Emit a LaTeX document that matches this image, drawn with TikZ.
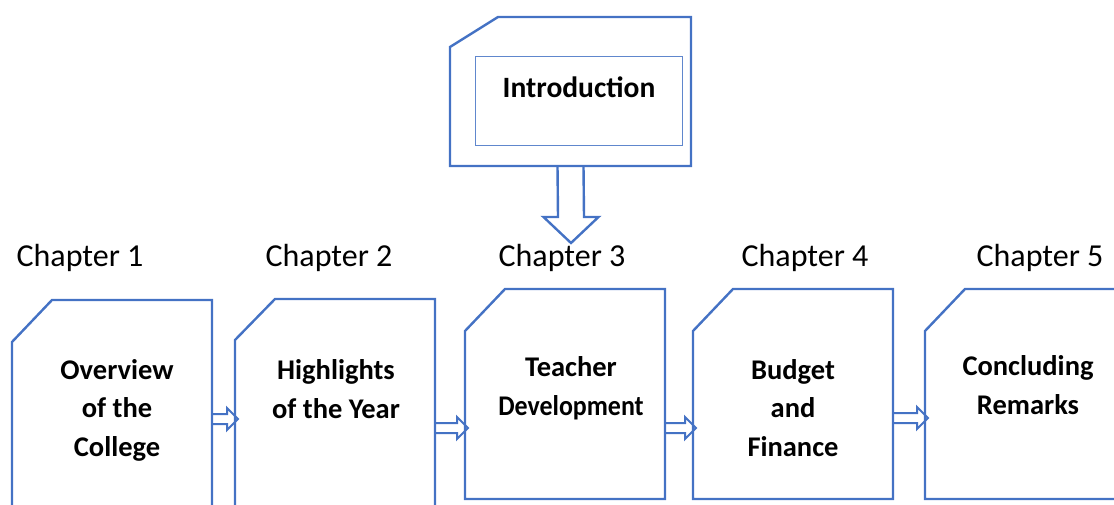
\documentclass[tikz,border=0pt]{standalone}
\usepackage{fontspec}
\setmainfont{Carlito}
\usetikzlibrary{calc}
\definecolor{boxblue}{RGB}{68,114,196}
\tikzset{
  chapbox/.style={minimum width=200pt,inner sep=0pt,outer sep=0pt},
  boxline/.style={draw=boxblue,line width=2.4pt,line join=miter},
  chaplabel/.style={font=\fontsize{32}{38}\selectfont},
  boxtext/.style={font=\fontsize{28.5}{38.5}\selectfont\bfseries,align=center},
  blockarrow/.style={draw=boxblue,line width=2pt,line join=miter}
}
\newcommand{\chamfer}[3]{%
  \draw[boxline] ($(#1.north west)+(0,#3)$) -- ($(#1.north west)+(#2,0)$) -- (#1.north east)
    -- (#1.south east) -- (#1.south west) -- cycle;}
\newcommand{\hblock}[3]{%
  \draw[blockarrow] ($(#1.east|-0,#3)+(0,-5)$) -- ($(#2.west|-0,#3)+(-8,-5)$) -- ++(0,-6)
    -- ($(#2.west|-0,#3)+(3,0)$) -- ($(#2.west|-0,#3)+(-8,11)$) -- ++(0,-6) -- ($(#1.east|-0,#3)+(0,5)$);}
\begin{document}
\begin{tikzpicture}[x=1pt,y=-1pt]
\clip (0,0) rectangle (1114,505);

\node[chapbox,minimum width=241pt,minimum height=149pt] (intro) at (570.5,91.5) {};
\chamfer{intro}{48}{30}
\node[draw=boxblue!85,line width=1pt,minimum width=207pt,minimum height=89pt,inner sep=0pt] (introbox) at (578.5,101.5) {};
\node[boxtext,font=\fontsize{29.5}{36}\selectfont\bfseries] (introtext) at (579,87) {Introduction};

\node[chapbox,minimum height=220pt] (ch1) at (112,410) {};
\node[chapbox,minimum height=221pt] (ch2) at (335,409.5) {};
\node[chapbox,minimum height=210pt] (ch3) at (565,394) {};
\node[chapbox,minimum height=210pt] (ch4) at (793,394) {};
\node[chapbox,minimum height=210pt] (ch5) at (1025,394) {};
\chamfer{ch1}{40}{42}
\chamfer{ch2}{40}{41}
\chamfer{ch3}{40}{42}
\chamfer{ch4}{40}{42}
\chamfer{ch5}{40}{42}

\node[chaplabel] (lab1) at (80,258) {Chapter 1};
\node[chaplabel] (lab2) at (329,258) {Chapter 2};
\node[chaplabel] (lab3) at (562,258) {Chapter 3};
\node[chaplabel] (lab4) at (805,258) {Chapter 4};
\node[chaplabel] (lab5) at (1040,258) {Chapter 5};

\node[boxtext] (text1) at (117,410) {Overview\\of the\\College};
\node[boxtext] (text2) at (336,389) {Highlights\\of the Year};
\node[boxtext] (text3) at (571,388) {Teacher\\\scalebox{0.91}[1]{Development}};
\node[boxtext] (text4) at (793,408) {Budget\\and\\Finance};
\node[boxtext] (text5) at (1028,385) {Concluding\\Remarks};

\coordinate (tip) at (571,243);
\draw[blockarrow,line width=2.4pt] ($(intro.south)+(-13,0)$) -- ($(tip)+(-13,-26)$) -- ++(-14.5,0) -- (tip)
  -- ($(tip)+(27.5,-26)$) -- ++(-14.5,0) -- ($(intro.south)+(13,0)$);

\hblock{ch1}{ch2}{419}
\hblock{ch2}{ch3}{428}
\hblock{ch3}{ch4}{428}
\hblock{ch4}{ch5}{418}
\end{tikzpicture}
\end{document}
